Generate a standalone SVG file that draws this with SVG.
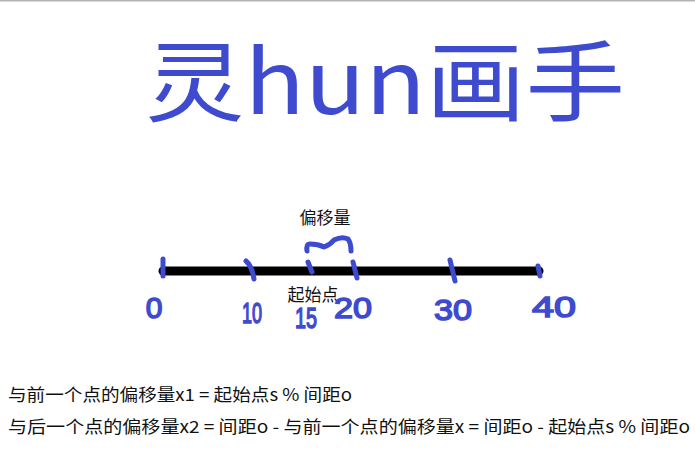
<svg xmlns="http://www.w3.org/2000/svg" width="695" height="471" viewBox="0 0 695 471">
<style>
.hand{fill:#3e4bcf;font-family:"Liberation Sans","Noto Sans CJK SC",sans-serif;}
.num{font-size:30px;text-anchor:middle;stroke:#3e4bcf;stroke-width:1.5;}
.stroke{fill:none;stroke:#3e4bcf;stroke-width:5;stroke-linecap:round;stroke-linejoin:round;}
.lbl{fill:#111;font-family:"Noto Sans CJK SC","Microsoft YaHei",sans-serif;font-size:17px;}
.body{fill:#111;font-family:"Noto Sans CJK SC","Microsoft YaHei",sans-serif;font-size:17px;}
</style>
<rect width="695" height="471" fill="#fff"/>
<rect x="0" y="0" width="695" height="1.5" fill="#b4b4b4"/>

<g id="title">
<text class="hand" x="145" y="114" font-size="88" textLength="480" lengthAdjust="spacingAndGlyphs" style="font-family:'Noto Sans CJK SC',sans-serif">灵hun画手</text>
</g>

<g id="connectors">
<line id="axis" x1="163" y1="271" x2="539" y2="271" stroke="#000" stroke-width="9" stroke-linecap="round"/>
</g>

<g id="ticks">
<path class="stroke" d="M163 259 L163 276"/>
<path class="stroke" d="M246 261 Q252 266 254 279"/>
<path class="stroke" d="M308 262 L312 272"/>
<path class="stroke" d="M353 262 L357 278"/>
<path class="stroke" d="M450 260 L455 281"/>
<path class="stroke" d="M538 266 L540 276"/>
</g>

<g id="brace">
<path class="stroke" d="M307 251 Q306 244 310 244 Q318 244 324 247 Q330 245 334 240 Q342 236 348 239 Q351 243 351 251"/>
</g>

<g id="offset-label">
<text class="lbl" x="325" y="224" text-anchor="middle">偏移量</text>
</g>
<g id="start-label">
<text class="lbl" x="313" y="301" text-anchor="middle">起始点</text>
</g>

<g id="numbers">
<text class="hand num" x="154" y="318">0</text>
<text class="hand num" x="252" y="323" textLength="20" lengthAdjust="spacingAndGlyphs">10</text>
<text class="hand num" x="306" y="328" font-size="27" textLength="22" lengthAdjust="spacingAndGlyphs">15</text>
<text class="hand num" x="353" y="318" textLength="38" lengthAdjust="spacingAndGlyphs">20</text>
<text class="hand num" x="453" y="320" textLength="38" lengthAdjust="spacingAndGlyphs">30</text>
<text class="hand num" x="554" y="317" textLength="44" lengthAdjust="spacingAndGlyphs">40</text>
</g>

<g id="formula1">
<text class="body" x="8" y="401" textLength="344" lengthAdjust="spacingAndGlyphs">与前一个点的偏移量x1 = 起始点s % 间距o</text>
</g>
<g id="formula2">
<text class="body" x="8" y="433" textLength="682" lengthAdjust="spacingAndGlyphs">与后一个点的偏移量x2 = 间距o - 与前一个点的偏移量x = 间距o - 起始点s % 间距o</text>
</g>
</svg>
